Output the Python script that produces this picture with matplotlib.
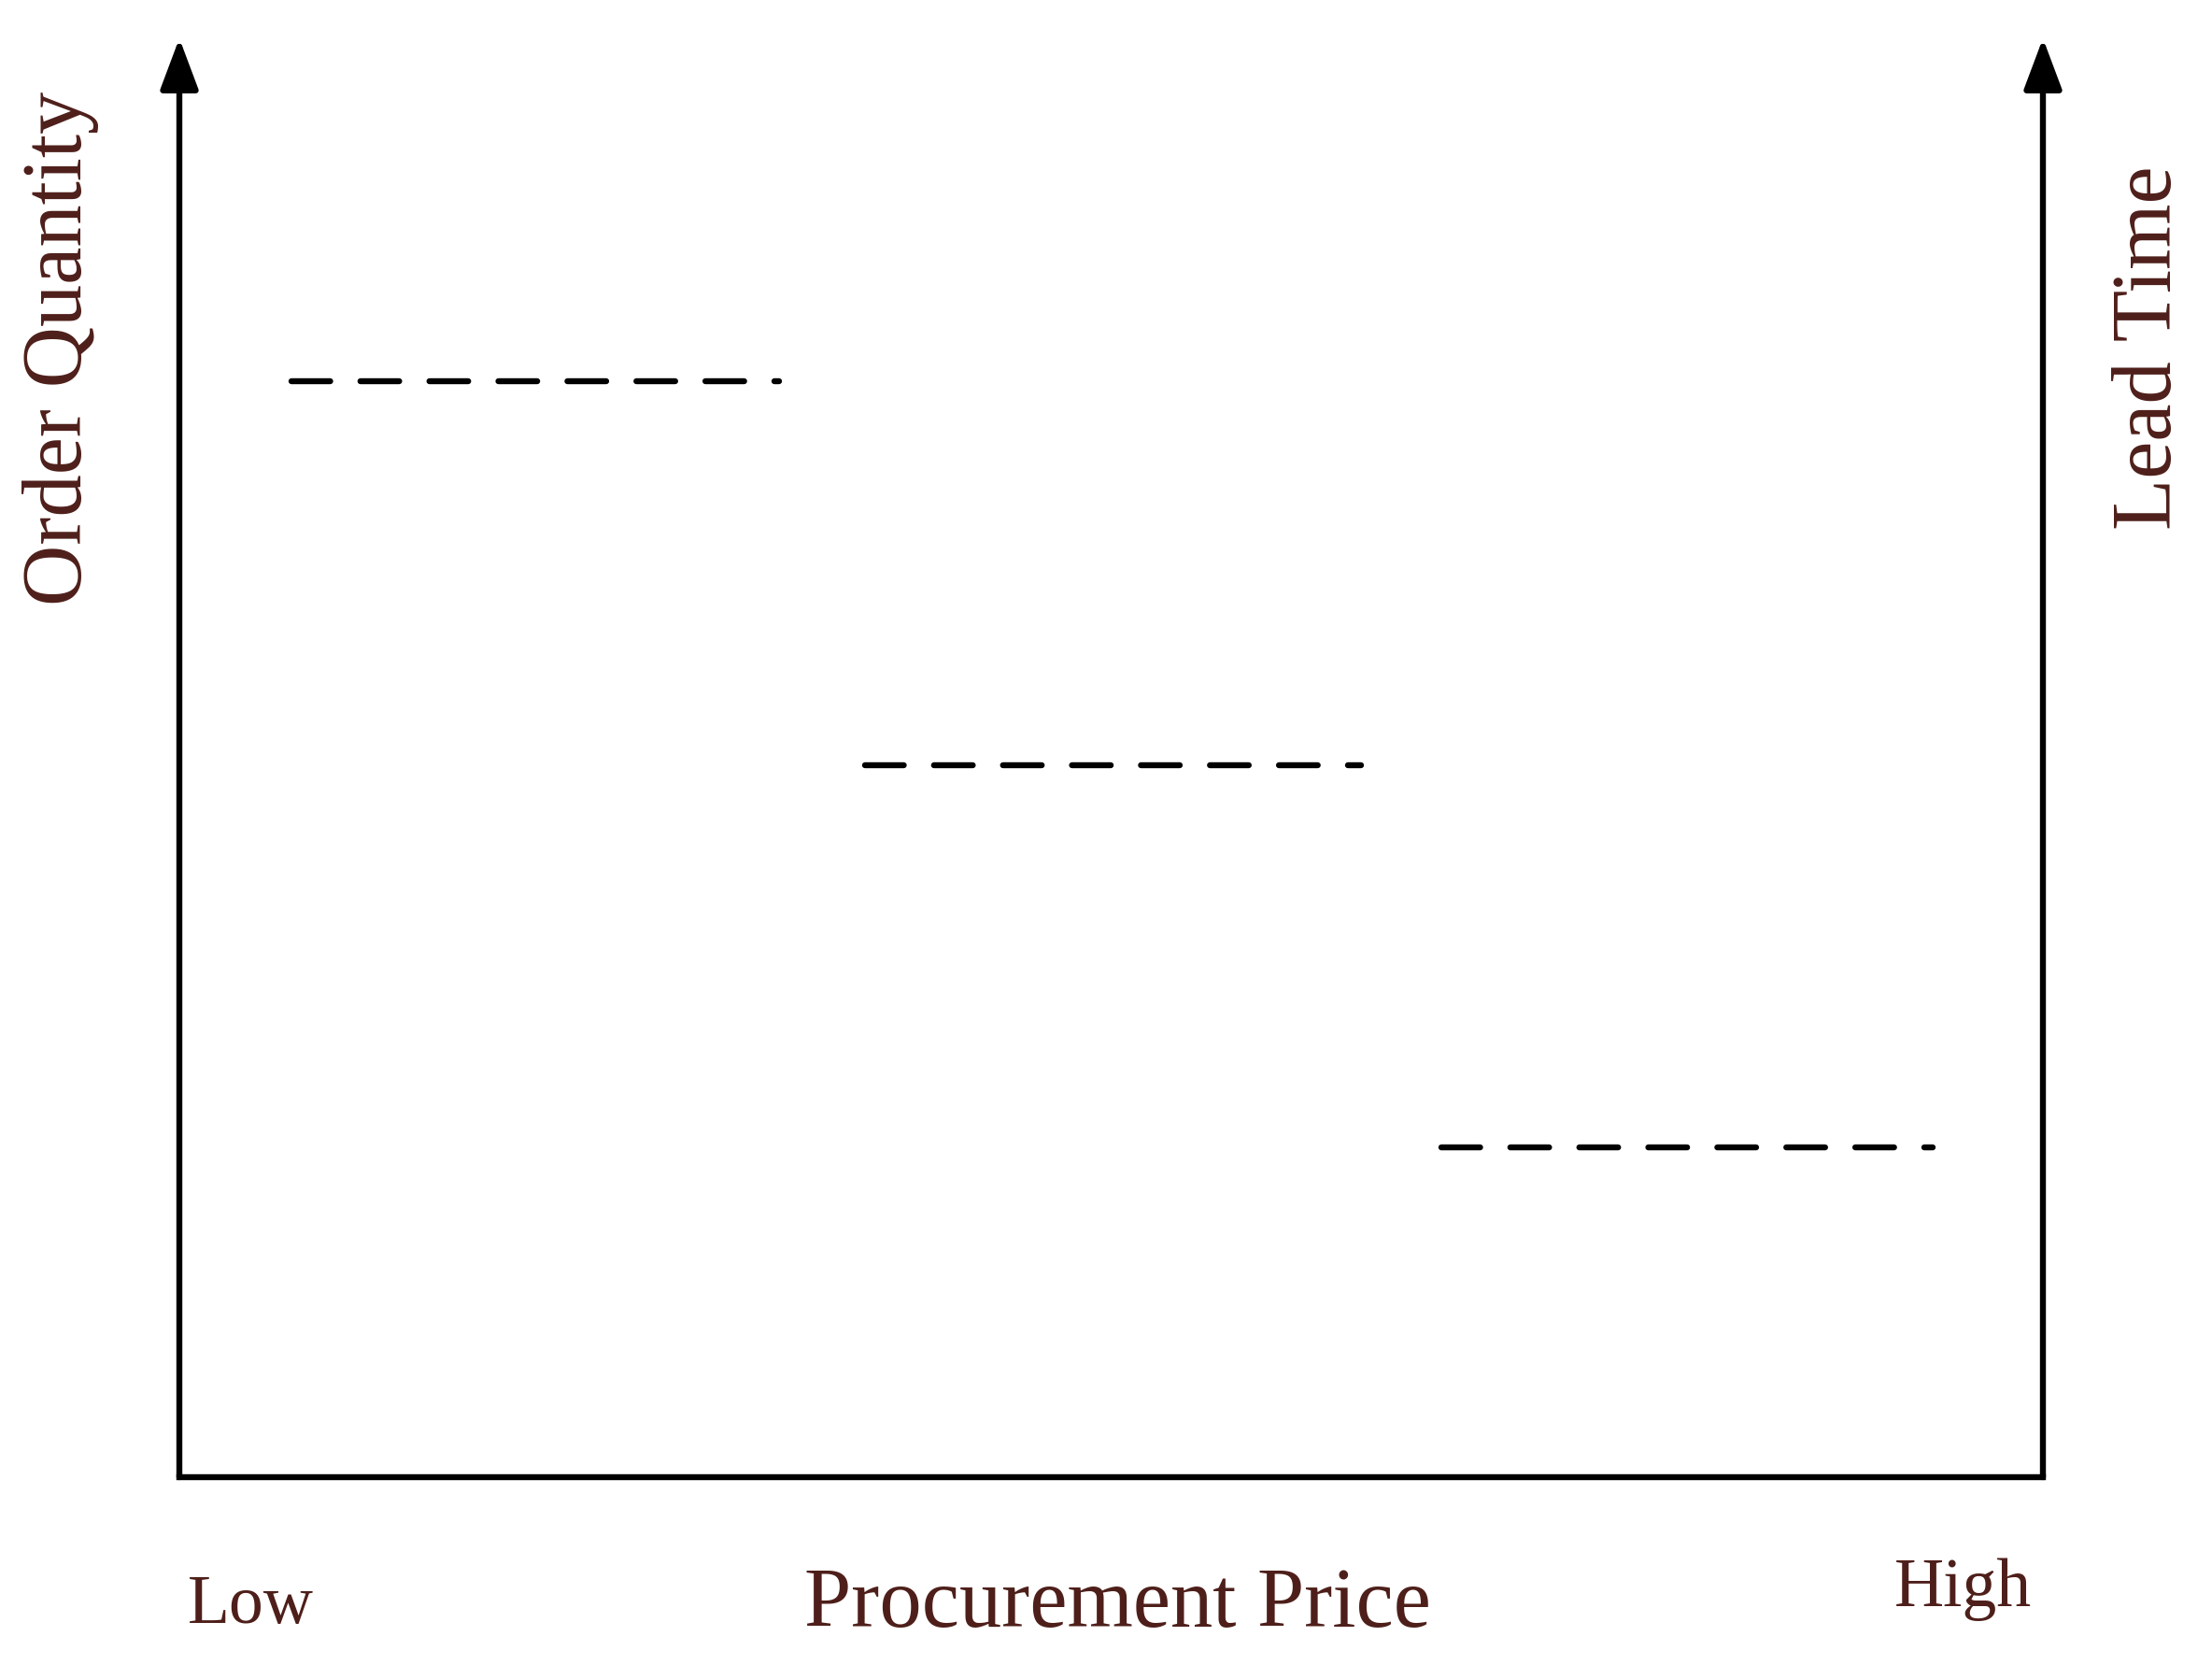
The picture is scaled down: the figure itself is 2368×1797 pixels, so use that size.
import matplotlib
matplotlib.use("Agg")
import matplotlib.pyplot as plt

# ---- data ----
segment_start = [0.060, 0.368, 0.677]   # fraction of price axis
segment_end = [0.322, 0.634, 0.941]
segment_level = [0.762, 0.495, 0.229]   # fraction of vertical axis
x_label = "Procurement Price"
y_left_label = "Order Quantity"
y_right_label = "Lead Time"
x_low_label = "Low"
x_high_label = "High"

TEXT_COLOR = "#4E1F1A"
FONT = ["Liberation Serif", "DejaVu Serif"]

W, H, DPI = 2368, 1797, 200
fig = plt.figure(figsize=(W / DPI, H / DPI), dpi=DPI)
fig.patch.set_facecolor("white")

ax = fig.add_axes([192 / W, 1 - 1581 / H, 1995 / W, 1540 / H])
ax.set_xlim(0, 1)
ax.set_ylim(0, 1)
ax.axis("off")

lw = 2.3
# bottom axis
ax.plot([0, 1], [0, 0], color="black", lw=lw, solid_capstyle="projecting", clip_on=False)
# vertical arrows
for xv in (0, 1):
    ax.annotate("", xy=(xv, 1.0), xytext=(xv, 0.0),
                arrowprops=dict(arrowstyle="-|>,head_length=0.56,head_width=0.21",
                                mutation_scale=30, color="black", lw=lw,
                                shrinkA=0, shrinkB=0),
                annotation_clip=False)

# dashed segments
for xs, xe, yv in zip(segment_start, segment_end, segment_level):
    ax.plot([xs, xe], [yv, yv], color="black", lw=lw,
            linestyle=(0, (6.5, 5.06)), dash_capstyle="round", clip_on=False)

# texts
fig.text(1196 / W, 1 - 1741 / H, x_label, ha="center", va="baseline",
         fontsize=32.6, family=FONT, color=TEXT_COLOR)
fig.text(201 / W, 1 - 1737 / H, x_low_label, ha="left", va="baseline",
         fontsize=26.5, family=FONT, color=TEXT_COLOR)
fig.text(2175 / W, 1 - 1719 / H, x_high_label, ha="right", va="baseline",
         fontsize=26.5, family=FONT, color=TEXT_COLOR)
fig.text(65 / W, 1 - 373 / H, y_left_label, ha="center", va="center", rotation=90,
         fontsize=32.6, family=FONT, color=TEXT_COLOR)
fig.text(2302 / W, 1 - 372 / H, y_right_label, ha="center", va="center", rotation=90,
         fontsize=32.6, family=FONT, color=TEXT_COLOR)

fig.savefig("out.png", dpi=DPI, facecolor="white")
